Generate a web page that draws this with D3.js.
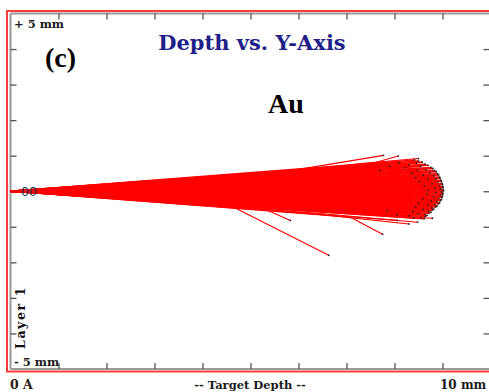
<!DOCTYPE html>
<html>
<head>
<meta charset="utf-8">
<script src="https://cdn.jsdelivr.net/npm/d3@7"></script>
<style>
  html, body { margin: 0; padding: 0; background: #ffffff; }
  svg { display: block; }
</style>
</head>
<body>
<script>
// ---------------- data ----------------
const depthTicks = [0, 1, 2, 3, 4, 5, 6, 7, 8, 9, 10];          // mm
const lateralTicks = [-5, -4, -3, -2, -1, 0, 1, 2, 3, 4, 5];   // mm
const depthLabels = ["0 A", "-- Target Depth --", "10 mm"];
const lateralLabels = ["+ 5 mm", "- 5 mm"];
const chartTitle = "Depth vs. Y-Axis";
const panelLabel = "(c)";
const ionLabel = "Au";
const layerLabel = "Layer 1";
const originLabel = "00";

// end points [depth mm, lateral mm] of straight ion tracks reaching the range rim
const trackEnds = [
  [8.42, 0.88], [8.50, 0.85], [8.58, 0.82], [8.46, 0.79], [8.64, 0.76], [8.70, 0.73],
  [8.54, 0.70], [8.76, 0.67], [8.80, 0.64], [8.66, 0.61], [8.84, 0.58], [8.87, 0.55],
  [8.74, 0.52], [8.90, 0.49], [8.92, 0.46], [8.82, 0.43], [8.94, 0.40], [8.95, 0.37],
  [8.86, 0.34], [8.97, 0.31], [8.98, 0.28], [8.90, 0.25], [8.99, 0.22], [9.00, 0.19],
  [8.94, 0.16], [9.01, 0.13], [9.01, 0.10], [8.96, 0.07], [9.02, 0.04], [9.02, 0.01],
  [8.98, -0.02], [9.01, -0.05], [9.01, -0.08], [8.96, -0.11], [9.00, -0.14], [8.99, -0.17],
  [8.92, -0.20], [8.98, -0.23], [8.96, -0.26], [8.88, -0.29], [8.94, -0.32], [8.92, -0.35],
  [8.84, -0.38], [8.89, -0.41], [8.86, -0.44], [8.78, -0.47], [8.82, -0.50], [8.79, -0.53],
  [8.71, -0.56], [8.76, -0.59], [8.72, -0.62], [8.64, -0.65], [8.68, -0.68], [8.64, -0.71],
  [8.56, -0.74], [8.62, -0.77]
];

// end points of tracks stopping inside the cloud
const innerEnds = [
  [8.10, 0.80], [8.30, 0.74], [8.22, 0.66], [8.48, 0.59], [8.36, 0.51], [8.60, 0.45],
  [8.44, 0.38], [8.70, 0.33], [8.52, 0.27], [8.78, 0.21], [8.62, 0.15], [8.84, 0.09],
  [8.70, 0.03], [8.86, -0.03], [8.68, -0.09], [8.82, -0.15], [8.60, -0.21], [8.76, -0.27],
  [8.50, -0.33], [8.70, -0.39], [8.44, -0.45], [8.60, -0.51], [8.38, -0.57], [8.50, -0.63],
  [8.30, -0.69], [8.40, -0.75], [7.90, 0.70], [8.05, -0.66], [7.70, 0.58], [7.85, -0.55]
];

// tracks that were deflected (polylines, [depth mm, lateral mm])
const deflectedTracks = [
  [[0, 0], [5.00, 0.39], [7.77, 1.01]],
  [[0, 0], [7.02, 0.59], [8.08, 0.99]],
  [[0, 0], [4.65, -0.45], [6.63, -1.80]],
  [[0, 0], [5.21, -0.45], [5.83, -0.82]],
  [[0, 0], [7.08, -0.73], [7.75, -1.21]],
  [[0, 0], [5.83, -0.59], [8.06, -0.82]],
  [[0, 0], [6.40, -0.62], [8.48, -0.87]],
  [[0, 0], [7.77, -0.68], [8.79, -0.76]],
  [[0, 0], [3.20, -0.28], [6.10, -0.60], [8.30, -0.92]],
  [[0, 0], [4.20, 0.30], [7.30, 0.78], [8.50, 0.92]]
];

// ---------------- drawing ----------------
const W = 489, H = 392;
const svg = d3.select("body").append("svg").attr("width", W).attr("height", H);
svg.append("rect").attr("width", W).attr("height", H).attr("fill", "#fff");

const x = d3.scaleLinear().domain([0, 10]).range([10.5, 490.5]);
const y = d3.scaleLinear().domain([-5, 5]).range([369, 13.5]);

// red outer frame (right side lies outside the picture)
svg.append("rect")
  .attr("x", 7).attr("y", 11).attr("width", 600).attr("height", 360.5)
  .attr("fill", "none").attr("stroke", "#ff3b3b").attr("stroke-width", 2);

// gray axis frame
const frame = svg.append("g").attr("stroke", "#9a9a9a").attr("stroke-width", 2).attr("fill", "none");
frame.append("line").attr("x1", x(0)).attr("x2", x(10) + 5).attr("y1", y(5)).attr("y2", y(5));
frame.append("line").attr("x1", x(0)).attr("x2", x(10) + 5).attr("y1", y(-5)).attr("y2", y(-5));
frame.append("line").attr("x1", x(0)).attr("x2", x(0)).attr("y1", y(5)).attr("y2", y(-5));

// ticks with d3 axes
const tickStyle = g => {
  g.select(".domain").remove();
  g.selectAll(".tick line").attr("stroke", "#555").attr("stroke-width", 1.3);
  g.selectAll(".tick text").remove();
};
svg.append("g").attr("transform", `translate(0,${y(5)})`)
  .call(d3.axisBottom(x).tickValues(depthTicks.slice(1, 10)).tickSize(6)).call(tickStyle);
svg.append("g").attr("transform", `translate(0,${y(-5)})`)
  .call(d3.axisTop(x).tickValues(depthTicks.slice(1, 10)).tickSize(6)).call(tickStyle);
svg.append("g").attr("transform", `translate(${x(0)},0)`)
  .call(d3.axisRight(y).tickValues(lateralTicks.slice(1, 10)).tickSize(6)).call(tickStyle);
svg.append("g").attr("transform", `translate(${x(10) - 1},0)`)
  .call(d3.axisLeft(y).tickValues(lateralTicks.slice(1, 10)).tickSize(6)).call(tickStyle);

// tracks
const line = d3.line().x(d => x(d[0])).y(d => y(d[1]));
const tracks = svg.append("g").attr("fill", "none").attr("stroke", "#ff0000")
  .attr("stroke-width", 1.6).attr("stroke-linejoin", "round");
tracks.selectAll("path.defl").data(deflectedTracks).join("path").attr("class", "defl")
  .attr("stroke-width", 1.1).attr("d", d => line(d));
tracks.selectAll("path.core").data(trackEnds.concat(innerEnds)).join("path").attr("class", "core")
  .attr("d", d => line([[0, 0], d]));

// end-of-range dots
const ends = trackEnds.concat(innerEnds, deflectedTracks.map(t => t[t.length - 1]));
svg.append("g").selectAll("circle").data(ends).join("circle")
  .attr("cx", d => x(d[0])).attr("cy", d => y(d[1])).attr("r", 0.9).attr("fill", "#222");

// texts
const serifWide = "'DejaVu Serif', serif";
const serif = "'Liberation Serif', 'Times New Roman', serif";
svg.append("text").attr("x", 252).attr("y", 50).attr("text-anchor", "middle")
  .attr("font-family", serifWide).attr("font-weight", "bold").attr("font-size", 21)
  .attr("fill", "#1f1f8a").text(chartTitle);
svg.append("text").attr("x", 45).attr("y", 67)
  .attr("font-family", serif).attr("font-weight", "bold").attr("font-size", 28)
  .attr("fill", "#000").text(panelLabel);
svg.append("text").attr("x", 268).attr("y", 113)
  .attr("font-family", serif).attr("font-weight", "bold").attr("font-size", 28)
  .attr("fill", "#000").text(ionLabel);

const small = {family: serifWide, size: 11.5};
svg.append("text").attr("x", 14).attr("y", 28)
  .attr("font-family", small.family).attr("font-weight", "bold").attr("font-size", small.size)
  .attr("fill", "#1a1a1a").text(lateralLabels[0]);
svg.append("text").attr("x", 14).attr("y", 366)
  .attr("font-family", small.family).attr("font-weight", "bold").attr("font-size", small.size)
  .attr("fill", "#1a1a1a").text(lateralLabels[1]);

svg.append("text").attr("x", 10).attr("y", 389)
  .attr("font-family", small.family).attr("font-weight", "bold").attr("font-size", 12.5)
  .attr("fill", "#2a2010").text(depthLabels[0]);
svg.append("text").attr("x", 250).attr("y", 389).attr("text-anchor", "middle")
  .attr("font-family", small.family).attr("font-weight", "bold").attr("font-size", 11.5)
  .attr("fill", "#1a1a1a").text(depthLabels[1]);
svg.append("text").attr("x", 440).attr("y", 389)
  .attr("font-family", small.family).attr("font-weight", "bold").attr("font-size", 12)
  .attr("fill", "#1a1a1a").text(depthLabels[2]);

svg.append("text").attr("transform", "translate(25,349) rotate(-90)")
  .attr("font-family", small.family).attr("font-weight", "bold").attr("font-size", 12.5)
  .attr("letter-spacing", 1.6)
  .attr("fill", "#111").text(layerLabel);

svg.append("text").attr("x", 21).attr("y", y(0) + 4.5)
  .attr("font-family", "'DejaVu Sans', sans-serif").attr("font-size", 12.5)
  .attr("fill", "#23304f").text(originLabel);
</script>
</body>
</html>
